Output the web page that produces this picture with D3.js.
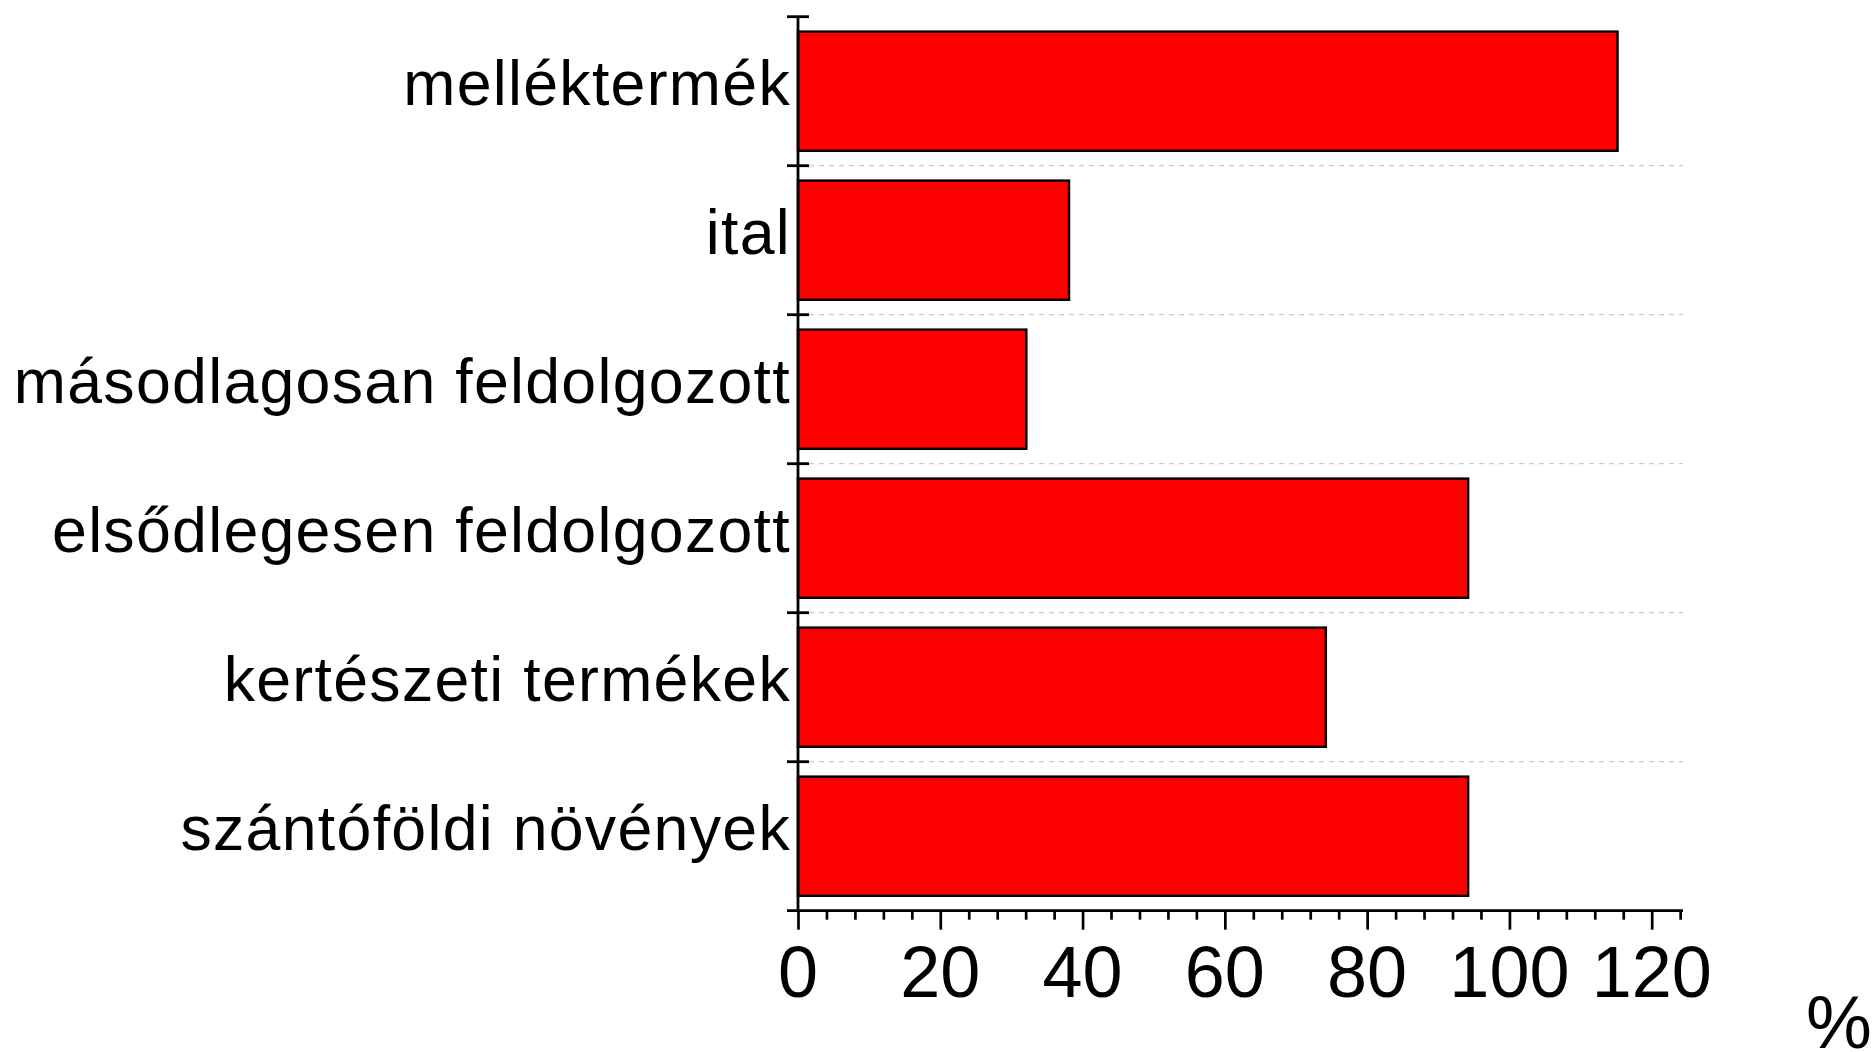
<!DOCTYPE html>
<html>
<head>
<meta charset="utf-8">
<script src="https://cdn.jsdelivr.net/npm/d3@7"></script>
<style>
  body { margin: 0; background: #fff; }
  text { font-family: "Liberation Sans", Arial, sans-serif; fill: #000; }
</style>
</head>
<body>
<svg id="chart" width="1874" height="1052"></svg>
<script>
// categories, top to bottom as drawn
var categories = [
    'melléktermék',
    'ital',
    'másodlagosan feldolgozott',
    'elsődlegesen feldolgozott',
    'kertészeti termékek',
    'szántóföldi növények'
];

// share, percent
var values = [115.2, 38.1, 32.1, 94.2, 74.2, 94.2];

var xTicks = [0, 20, 40, 60, 80, 100, 120];
var unitLabel = '%';

var svg = d3.select('#chart');

// plot area edges
var plotLeft = 798, plotRight = 1683;
var plotTop = 16.7, plotBottom = 910.7;

var x = d3.scaleLinear()
    .domain([0, 124.4])
    .range([plotLeft, plotRight]);

var y = d3.scaleBand()
    .domain(categories)
    .range([plotTop, plotBottom])
    .paddingInner(0.2)
    .paddingOuter(0.1);

var step = y.step();
var bounds = d3.range(categories.length + 1).map(function (i) { return plotTop + i * step; });

// dashed grid lines between the categories
svg.append('g')
    .selectAll('line')
    .data(bounds.slice(1, -1))
    .enter().append('line')
    .attr('x1', plotLeft + 11)
    .attr('x2', plotRight)
    .attr('y1', function (d) { return d; })
    .attr('y2', function (d) { return d; })
    .attr('stroke', '#bdbdbd')
    .attr('stroke-width', 1)
    .attr('stroke-dasharray', '5,5');

// bars
svg.append('g')
    .selectAll('rect')
    .data(values)
    .enter().append('rect')
    .attr('x', x(0))
    .attr('y', function (d, i) { return y(categories[i]); })
    .attr('width', function (d) { return x(d) - x(0); })
    .attr('height', y.bandwidth())
    .attr('fill', '#ff0000')
    .attr('stroke', '#000')
    .attr('stroke-width', 2.4);

// x axis, ticks every 4, long ones every 20
var xAxis = d3.axisBottom(x)
    .tickValues(d3.range(0, 125, 4))
    .tickSize(9)
    .tickFormat('');
var gx = svg.append('g')
    .attr('transform', 'translate(0,' + plotBottom + ')')
    .call(xAxis);
gx.select('.domain').remove();
gx.selectAll('.tick line')
    .attr('stroke-width', 2.7)
    .attr('y2', function (d) { return d % 20 === 0 ? 19 : 9; });
gx.append('line')
    .attr('x1', plotLeft - 11).attr('x2', plotRight)
    .attr('stroke', '#000').attr('stroke-width', 2.8);

gx.selectAll('.lbl')
    .data(xTicks)
    .enter().append('text')
    .attr('class', 'lbl')
    .attr('x', function (d) { return x(d); })
    .attr('y', 86)
    .attr('text-anchor', 'middle')
    .style('font-size', '72px')
    .text(function (d) { return d; });

// y axis: crossing ticks at the band edges
var gy = svg.append('g');
gy.append('line')
    .attr('x1', plotLeft).attr('x2', plotLeft)
    .attr('y1', plotTop).attr('y2', plotBottom)
    .attr('stroke', '#000').attr('stroke-width', 2.8);
gy.selectAll('.edge')
    .data(bounds.slice(0, -1))
    .enter().append('line')
    .attr('class', 'edge')
    .attr('x1', plotLeft - 11).attr('x2', plotLeft + 11)
    .attr('y1', function (d) { return d; })
    .attr('y2', function (d) { return d; })
    .attr('stroke', '#000').attr('stroke-width', 2.8);

gy.selectAll('.cat')
    .data(categories)
    .enter().append('text')
    .attr('class', 'cat')
    .attr('x', plotLeft - 7)
    .attr('y', function (d) { return y(d) + y.bandwidth() / 2; })
    .attr('dy', '0.22em')
    .attr('text-anchor', 'end')
    .style('font-size', '62.6px')
    .style('letter-spacing', '1.3px')
    .text(function (d) { return d; });

// unit label
svg.append('text')
    .attr('x', 1839)
    .attr('y', 1048)
    .attr('text-anchor', 'middle')
    .style('font-size', '74px')
    .text(unitLabel);
</script>
</body>
</html>
